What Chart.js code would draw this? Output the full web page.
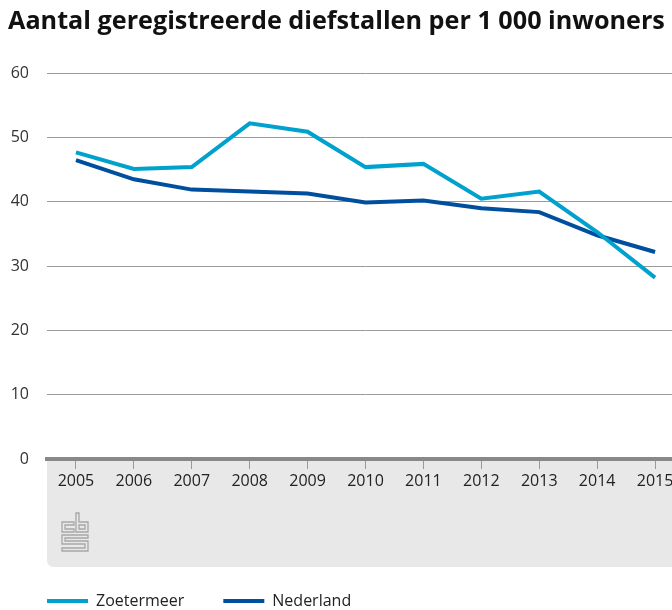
<!DOCTYPE html>
<html lang="nl">
<head>
<meta charset="utf-8">
<title>Diefstallen per 1 000 inwoners</title>
<script src="https://cdn.jsdelivr.net/npm/chart.js@4"></script>
<style>
  html, body { margin: 0; padding: 0; background: #fff; overflow: hidden; }
  #wrap { position: relative; width: 684px; height: 619px; }
</style>
</head>
<body>
<div id="wrap"><canvas id="diefstal-chart"></canvas></div>
<script>
const jaren = ['2005', '2006', '2007', '2008', '2009', '2010', '2011', '2012', '2013', '2014', '2015'];
const zoetermeer = [47.7, 45.1, 45.4, 52.2, 50.9, 45.4, 45.9, 40.5, 41.6, 35.3, 28.2];
const nederland = [46.5, 43.5, 41.9, 41.6, 41.3, 39.9, 40.2, 39.0, 38.4, 34.8, 32.2];
const yTicks = [0, 10, 20, 30, 40, 50, 60];

const fontFamily = '"Open Sans", "Noto Sans", sans-serif';

// grijs vlak onder de x-as met cbs-logo
const footerBox = {
  id: 'footerBox',
  beforeDraw(chart) {
    const { ctx, chartArea } = chart;
    const left = chartArea.left, top = chartArea.bottom, right = chart.width, h = 108, r = 7;
    ctx.save();
    ctx.fillStyle = '#e8e8e8';
    ctx.beginPath();
    ctx.moveTo(left, top);
    ctx.lineTo(right, top);
    ctx.lineTo(right, top + h);
    ctx.lineTo(left + r, top + h);
    ctx.quadraticCurveTo(left, top + h, left, top + h - r);
    ctx.closePath();
    ctx.fill();

    // logo
    const ox = left + 15, oy = top + 54;
    const shapes = [
      [[0, 9], [12, 9], [12, 12], [3, 12], [3, 16], [12, 16], [12, 19], [0, 19]],
      [[14, 0], [17, 0], [17, 9], [26, 9], [26, 19], [14, 19]],
      [[17, 12], [23, 12], [23, 16], [17, 16]],
      [[0, 22], [26, 22], [26, 25], [3, 25], [3, 28], [26, 28], [26, 38], [0, 38], [0, 35], [23, 35], [23, 31], [0, 31]],
    ];
    ctx.strokeStyle = '#a6a6a6';
    ctx.lineWidth = 1.3;
    shapes.forEach((pts) => {
      ctx.beginPath();
      pts.forEach(([x, y], i) => i ? ctx.lineTo(ox + x, oy + y) : ctx.moveTo(ox + x, oy + y));
      ctx.closePath();
      ctx.stroke();
    });
    ctx.restore();
  }
};

const ctx = document.getElementById('diefstal-chart');

new Chart(ctx, {
  type: 'line',
  data: {
    labels: jaren,
    datasets: [
      {
        label: 'Zoetermeer',
        data: zoetermeer,
        borderColor: '#00a1cd',
        backgroundColor: '#00a1cd',
        borderWidth: 4,
        pointRadius: 0,
        tension: 0,
      },
      {
        label: 'Nederland',
        data: nederland,
        borderColor: '#004f9f',
        backgroundColor: '#004f9f',
        borderWidth: 4,
        pointRadius: 0,
        tension: 0,
      },
    ]
  },
  options: {
    responsive: true,
    maintainAspectRatio: false,
    animation: false,
    layout: { padding: { left: 8, right: 0, top: 0, bottom: 0 } },
    font: { family: fontFamily },
    plugins: {
      title: {
        display: true,
        text: 'Aantal geregistreerde diefstallen per 1 000 inwoners',
        align: 'start',
        color: '#111',
        font: { family: fontFamily, size: 25.2, weight: 'bold', lineHeight: 1.2 },
        padding: { top: 7, bottom: 36 },
      },
      legend: {
        display: true,
        position: 'bottom',
        align: 'start',
        labels: {
          boxWidth: 41,
          boxHeight: 4,
          padding: 39,
          color: '#222',
          font: { family: fontFamily, size: 16 },
          generateLabels: (chart) => Chart.defaults.plugins.legend.labels.generateLabels(chart)
            .map((item) => ({ ...item, lineWidth: 0, fillStyle: item.strokeStyle })),
        },
      },
      tooltip: { enabled: false },
    },
    scales: {
      x: {
        offset: true,
        grid: { drawOnChartArea: false, drawTicks: true, tickLength: 10, color: '#999', lineWidth: 1 },
        border: { display: true, color: '#888', width: 4 },
        ticks: {
          color: '#222',
          font: { family: fontFamily, size: 16 },
          padding: 3,
          maxRotation: 0,
          autoSkip: false,
        },
        afterFit: (scale) => { scale.height = 95; },
      },
      y: {
        min: 0,
        max: 60,
        afterBuildTicks: (scale) => { scale.ticks = yTicks.map((v) => ({ value: v })); },
        grid: { color: '#9a9a9a', lineWidth: 1, drawTicks: false },
        border: { display: false },
        ticks: {
          color: '#333',
          font: { family: fontFamily, size: 16 },
          padding: 18,
        },
        afterFit: (scale) => { scale.width = 39; },
      },
    },
  },
  plugins: [footerBox],
});
</script>
</body>
</html>
